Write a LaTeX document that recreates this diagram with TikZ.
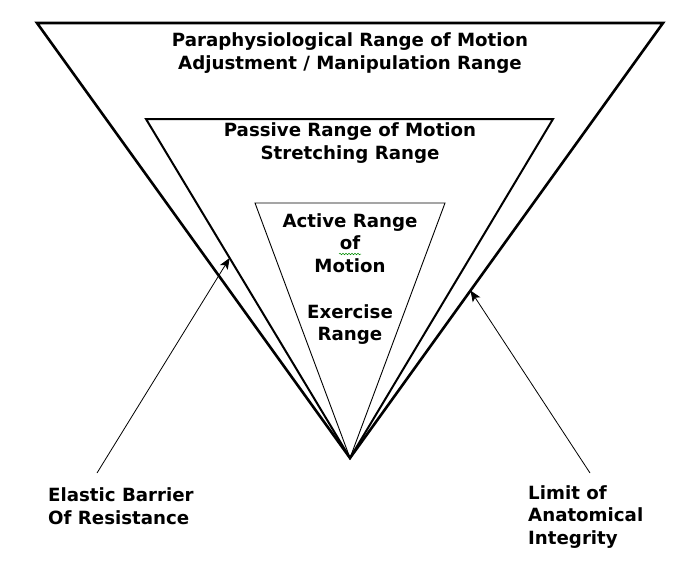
\documentclass[tikz,border=0pt]{standalone}
\usepackage{fontspec}
\setmainfont{DejaVu Sans}
\usetikzlibrary{arrows.meta,calc,decorations.pathmorphing}

\tikzset{
    label/.style={font=\fontsize{18.2}{22.7}\selectfont\bfseries, align=center, inner sep=0pt},
    sidelabel/.style={label, align=left, anchor=west},
    outerrange/.style={draw, line width=2.6pt, line join=miter},
    midrange/.style={draw, line width=2pt, line join=miter},
    innerrange/.style={draw, line width=0.9pt, line join=miter},
    pointer/.style={-{Stealth[length=11pt,width=9pt,inset=2.5pt]}, line width=0.8pt},
    squiggle/.style={draw=green!55!black, line width=0.5pt,
        decorate, decoration={snake, amplitude=0.8pt, segment length=3pt}}
}

\begin{document}
\begin{tikzpicture}[x=1pt, y=-1pt]
    \useasboundingbox (0,0) rectangle (692,560);

    % shared apex of the three ranges
    \coordinate (apex) at (350,458);
    \coordinate (outer-l) at (37,23);
    \coordinate (outer-r) at (663,23);
    \coordinate (mid-l) at (146,119);
    \coordinate (mid-r) at (553,119);
    \coordinate (inner-l) at (255,203);
    \coordinate (inner-r) at (445,203);

    \draw[outerrange] (outer-l) -- (outer-r) -- (apex) -- cycle;
    \draw[midrange] (mid-l) -- (mid-r) -- (apex) -- cycle;
    \draw[innerrange] (inner-l) -- (inner-r) -- (apex) -- cycle;

    \node[label] (para) at (350,53)
        {Paraphysiological Range of Motion\\Adjustment / Manipulation Range};
    \node[label] (passive) at (350,143)
        {Passive Range of Motion\\Stretching Range};
    \node[label] (active) at (350,279)
        {Active Range\\of\\Motion\\[22.7pt]Exercise\\Range};
    \draw[squiggle] (339,254) -- (361,254);

    \node[sidelabel] (elastic) at (48,506)
        {Elastic Barrier\\Of Resistance};
    \node[sidelabel] (limit) at (528,517)
        {Limit of\\Anatomical\\Integrity};

    % arrows point at the barrier edges
    \coordinate (elastic-tip) at ($(mid-l)!0.41!(apex)$);
    \coordinate (limit-tip) at ($(outer-r)!0.615!(apex)$);
    \coordinate (elastic-tail) at (97,473);
    \coordinate (limit-tail) at (590,473);
    \draw[pointer] (elastic-tail) -- (elastic-tip);
    \draw[pointer] (limit-tail) -- (limit-tip);
\end{tikzpicture}
\end{document}
